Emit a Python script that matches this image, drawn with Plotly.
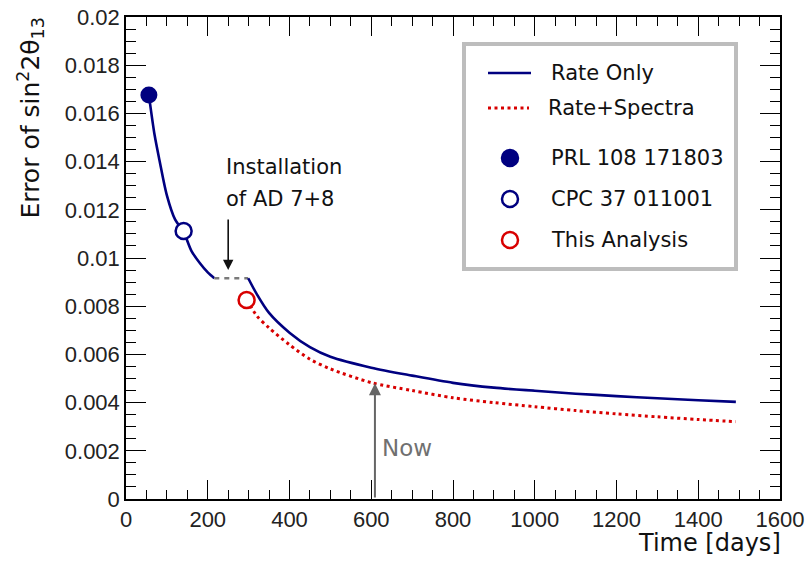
import plotly.graph_objects as go

# ---- data ----
rate_only_days_a = [56, 70, 82, 100, 120, 141, 160, 180, 200, 216]
rate_only_err_a = [0.01676, 0.0151, 0.01405, 0.0126, 0.0116, 0.01108, 0.0103, 0.0098, 0.0094, 0.00916]

gap_days = [216, 299]
gap_err = [0.00916, 0.00916]

rate_only_days_b = [299, 320, 350, 400, 450, 500, 600, 700, 800, 900, 1000, 1100, 1200, 1300, 1400, 1492]
rate_only_err_b = [0.00916, 0.0085, 0.00772, 0.0069, 0.0063, 0.0059, 0.00545, 0.00512, 0.00482, 0.00462,
                   0.00449, 0.00437, 0.00427, 0.00418, 0.0041, 0.00403]

spectra_days = [296, 320, 350, 400, 450, 500, 600, 700, 800, 900, 1000, 1100, 1200, 1300, 1400, 1492]
spectra_err = [0.00826, 0.0076, 0.0071, 0.0064, 0.0058, 0.0054, 0.00483, 0.0045, 0.0042, 0.004, 0.00383,
               0.00367, 0.00353, 0.00341, 0.0033, 0.00321]

prl_day, prl_err = [56], [0.01676]
cpc_day, cpc_err = [141], [0.01112]
this_day, this_err = [295], [0.00826]

install_day = 250
install_arrow_err = [0.01166, 0.0095]
now_day = 609
now_err = 0.0048

x_ticks = [0, 200, 400, 600, 800, 1000, 1200, 1400, 1600]
x_ticktext = [str(v) for v in x_ticks]
y_ticks = [0, 0.002, 0.004, 0.006, 0.008, 0.01, 0.012, 0.014, 0.016, 0.018, 0.02]
y_ticktext = ["0", "0.002", "0.004", "0.006", "0.008", "0.01", "0.012", "0.014", "0.016", "0.018", "0.02"]

legend_labels = ["Rate Only", "Rate+Spectra", "PRL 108 171803", "CPC 37 011001", "This Analysis"]

# ---- style ----
NAVY = "#000080"
RED = "#d80000"
GRAY = "#7a7a7a"
FONT = "DejaVu Sans"
TICKFONT = "Liberation Sans"
W, H = 805, 573
PLOT_L, PLOT_R, PLOT_T, PLOT_B = 126, 780, 17, 499  # plot frame in window pixels
L, R, T, B = PLOT_L, W - PLOT_R, PLOT_T, H - PLOT_B
PW, PH = PLOT_R - PLOT_L, PLOT_B - PLOT_T


def px(xp):
    return (xp - PLOT_L) / PW


def py(yp):
    return (PLOT_B - yp) / PH


fig = go.Figure()

fig.add_trace(go.Scatter(x=rate_only_days_a, y=rate_only_err_a, mode="lines", name=legend_labels[0],
                         line=dict(color=NAVY, width=2.6, shape="spline", smoothing=0.8), showlegend=False))
fig.add_trace(go.Scatter(x=gap_days, y=gap_err, mode="lines", name="gap",
                         line=dict(color=GRAY, width=2.4, dash="5px,5px"), showlegend=False))
fig.add_trace(go.Scatter(x=rate_only_days_b, y=rate_only_err_b, mode="lines", name=legend_labels[0],
                         line=dict(color=NAVY, width=2.6, shape="spline", smoothing=0.8), showlegend=False))
fig.add_trace(go.Scatter(x=spectra_days, y=spectra_err, mode="lines", name=legend_labels[1],
                         line=dict(color=RED, width=3, dash="3px,3.5px", shape="spline", smoothing=0.8),
                         showlegend=False))
fig.add_trace(go.Scatter(x=prl_day, y=prl_err, mode="markers", name=legend_labels[2],
                         marker=dict(symbol="circle", size=17, color=NAVY), showlegend=False))
fig.add_trace(go.Scatter(x=cpc_day, y=cpc_err, mode="markers", name=legend_labels[3],
                         marker=dict(symbol="circle", size=16, color="white", line=dict(color=NAVY, width=2.5)),
                         showlegend=False))
fig.add_trace(go.Scatter(x=this_day, y=this_err, mode="markers", name=legend_labels[4],
                         marker=dict(symbol="circle", size=16, color="white", line=dict(color=RED, width=2.5)),
                         showlegend=False))

# ---- arrows / texts ----
fig.add_annotation(x=install_day, y=install_arrow_err[1], ax=install_day, ay=install_arrow_err[0],
                   xref="x", yref="y", axref="x", ayref="y", text="", showarrow=True,
                   arrowhead=2, arrowsize=1.3, arrowwidth=1.6, arrowcolor="#111", standoff=0)
fig.add_annotation(x=px(224), y=py(167), xref="paper", yref="paper", text="Installation",
                   xanchor="left", yanchor="middle", showarrow=False, font=dict(family=FONT, size=21, color="#111"))
fig.add_annotation(x=px(224), y=py(199), xref="paper", yref="paper", text="of AD 7+8",
                   xanchor="left", yanchor="middle", showarrow=False, font=dict(family=FONT, size=21, color="#111"))

fig.add_annotation(x=now_day, y=now_err, ax=now_day, ay=0, xref="x", yref="y", axref="x", ayref="y",
                   text="", showarrow=True, arrowhead=2, arrowsize=1.2, arrowwidth=2, arrowcolor="#666",
                   standoff=0)
fig.add_annotation(x=px(380), y=py(448), xref="paper", yref="paper", text="Now", xanchor="left",
                   yanchor="middle", showarrow=False, font=dict(family=FONT, size=23, color="#707070"))

# axis titles
fig.add_annotation(x=px(783), y=py(543), xref="paper", yref="paper", text="Time [days]", xanchor="right",
                   yanchor="middle", showarrow=False, font=dict(family=FONT, size=24, color="#111"))
fig.add_annotation(x=px(30), y=py(16), xref="paper", yref="paper",
                   text="Error of sin<sup>2</sup>2θ<sub>13</sub>", textangle=-90, xanchor="center",
                   yanchor="top", showarrow=False, font=dict(family=FONT, size=25, color="#111"))

# ---- manual legend ----
shapes = [
    dict(type="rect", xref="paper", yref="paper", x0=px(464), x1=px(736), y0=py(44), y1=py(269),
         line=dict(color="#bdbdbd", width=4), fillcolor="white", layer="below"),
    dict(type="line", xref="paper", yref="paper", x0=px(488), x1=px(531), y0=py(73), y1=py(73),
         line=dict(color=NAVY, width=2.6)),
    dict(type="line", xref="paper", yref="paper", x0=px(488), x1=px(529), y0=py(108), y1=py(108),
         line=dict(color=RED, width=3, dash="3px,3.5px")),
]
marker_rows = [(158, NAVY, NAVY), (199, "white", NAVY), (240, "white", RED)]
for yy, fill, edge in marker_rows:
    shapes.append(dict(type="circle", xref="paper", yref="paper", xsizemode="pixel", ysizemode="pixel",
                       xanchor=px(510), yanchor=py(yy), x0=-8, x1=8, y0=-8, y1=8,
                       fillcolor=fill, line=dict(color=edge, width=2.5)))
legend_text_pos = [(549, 73), (546, 108), (549, 158), (549, 199), (549, 240)]
for lab, (xx, yy) in zip(legend_labels, legend_text_pos):
    fig.add_annotation(x=px(xx), y=py(yy), xref="paper", yref="paper", text=lab, xanchor="left",
                       yanchor="middle", showarrow=False, font=dict(family=FONT, size=21, color="#111"))

axis_common = dict(showline=True, linecolor="black", linewidth=1.5, mirror="allticks", ticks="inside",
                   tickcolor="black", tickwidth=1.3, showgrid=False, zeroline=False, automargin=False,
                   ticklabeloverflow="allow", tickfont=dict(family=TICKFONT, size=22, color="#222"))

fig.update_layout(
    width=W, height=H, margin=dict(l=L, r=R, t=T, b=B, autoexpand=False),
    paper_bgcolor="white", plot_bgcolor="white", showlegend=False, shapes=shapes,
    xaxis=dict(range=[0, 1600], tickmode="array", tickvals=x_ticks, ticktext=x_ticktext, ticklen=19,
               minor=dict(dtick=50, tick0=0, ticklen=9, ticks="inside", tickcolor="black", tickwidth=1.3),
               **axis_common),
    yaxis=dict(range=[0, 0.02], tickmode="array", tickvals=y_ticks, ticktext=y_ticktext, ticklen=20,
               minor=dict(dtick=0.0005, tick0=0, ticklen=10, ticks="inside", tickcolor="black", tickwidth=1.3),
               **axis_common),
)

# remove the default 8px page margin so the figure fills the window exactly
fig.write_html("out.html", config={"displayModeBar": False},
               post_script="document.body.style.margin='0';")
